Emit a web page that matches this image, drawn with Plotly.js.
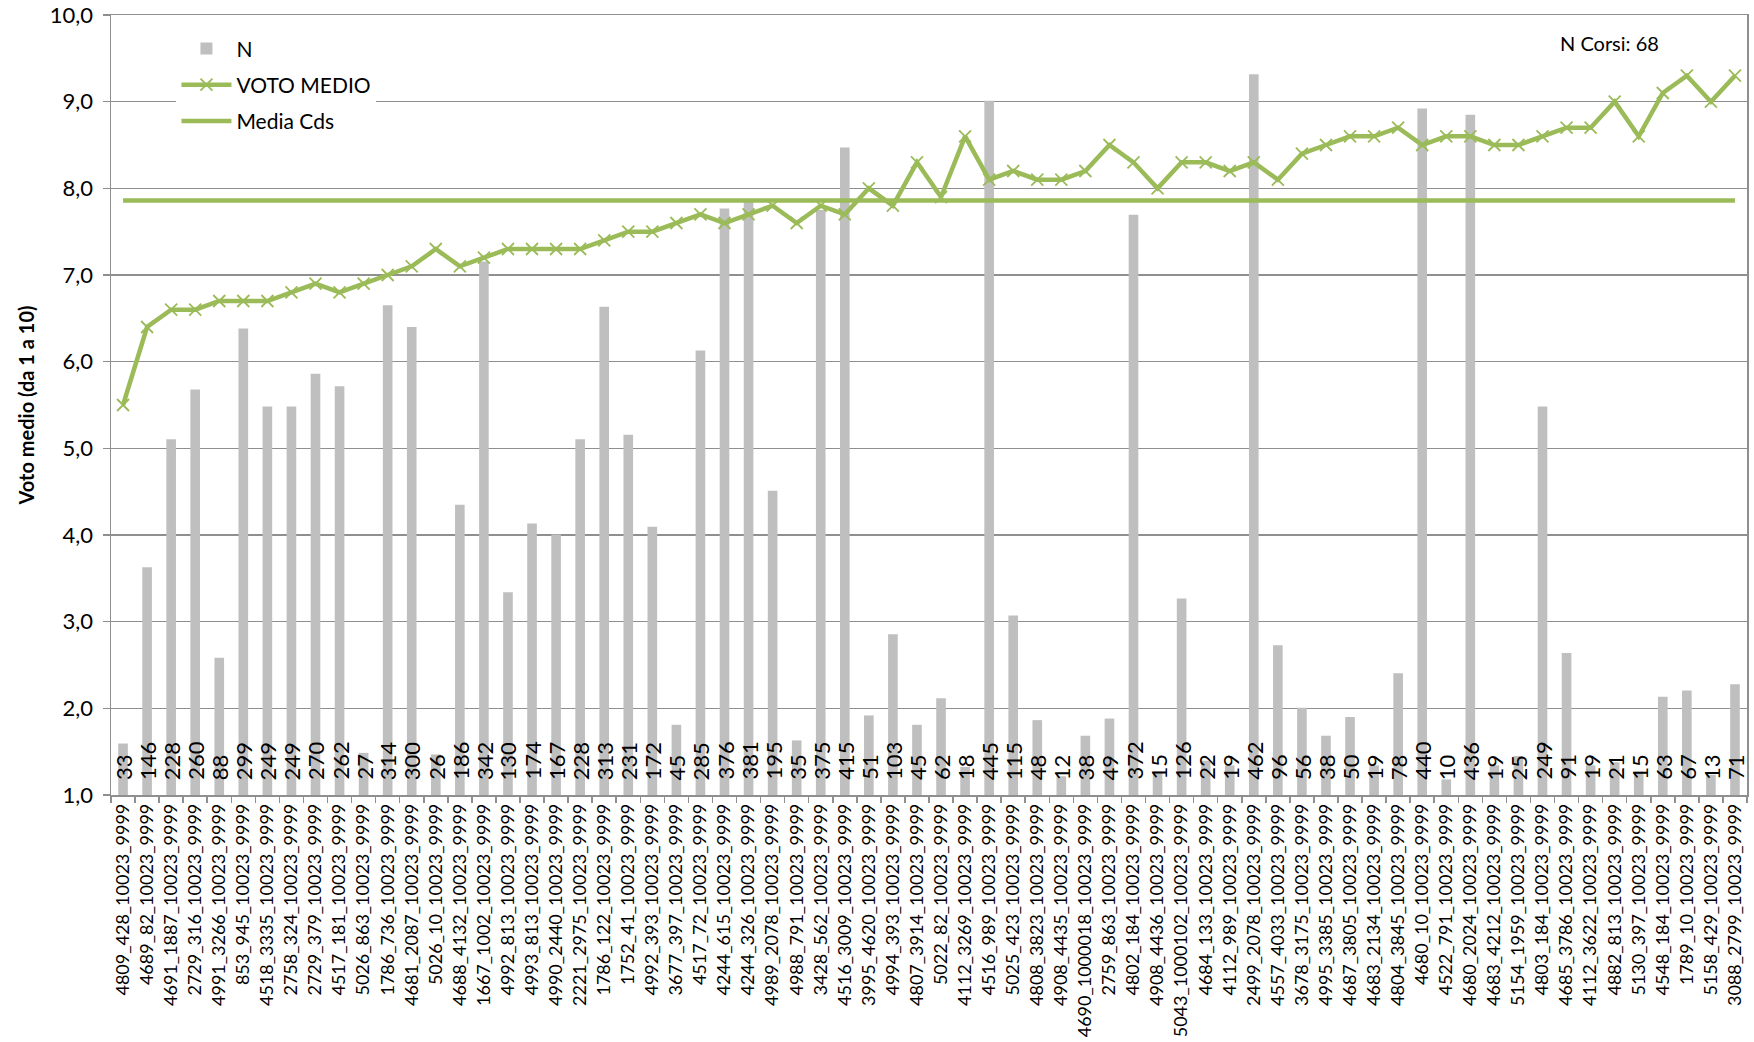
<!DOCTYPE html>
<html>
<head>
<meta charset="utf-8">
<script src="https://cdn.plot.ly/plotly-3.0.1.min.js"></script>
<style>html,body{margin:0;padding:0;background:#fff;}#chart{width:1754px;height:1042px;}</style>
</head>
<body>
<div id="chart"></div>
<script>
const categories = [
"4809_428_10023_9999","4689_82_10023_9999","4691_1887_10023_9999","2729_316_10023_9999","4991_3266_10023_9999",
"853_945_10023_9999","4518_3335_10023_9999","2758_324_10023_9999","2729_379_10023_9999","4517_181_10023_9999",
"5026_863_10023_9999","1786_736_10023_9999","4681_2087_10023_9999","5026_10_10023_9999","4688_4132_10023_9999",
"1667_1002_10023_9999","4992_813_10023_9999","4993_813_10023_9999","4990_2440_10023_9999","2221_2975_10023_9999",
"1786_122_10023_9999","1752_41_10023_9999","4992_393_10023_9999","3677_397_10023_9999","4517_72_10023_9999",
"4244_615_10023_9999","4244_326_10023_9999","4989_2078_10023_9999","4988_791_10023_9999","3428_562_10023_9999",
"4516_3009_10023_9999","3995_4620_10023_9999","4994_393_10023_9999","4807_3914_10023_9999","5022_82_10023_9999",
"4112_3269_10023_9999","4516_989_10023_9999","5025_423_10023_9999","4808_3823_10023_9999","4908_4435_10023_9999",
"4690_1000018_10023_9999","2759_863_10023_9999","4802_184_10023_9999","4908_4436_10023_9999","5043_1000102_10023_9999",
"4684_133_10023_9999","4112_989_10023_9999","2499_2078_10023_9999","4557_4033_10023_9999","3678_3175_10023_9999",
"4995_3385_10023_9999","4687_3805_10023_9999","4683_2134_10023_9999","4804_3845_10023_9999","4680_10_10023_9999",
"4522_791_10023_9999","4680_2024_10023_9999","4683_4212_10023_9999","5154_1959_10023_9999","4803_184_10023_9999",
"4685_3786_10023_9999","4112_3622_10023_9999","4882_813_10023_9999","5130_397_10023_9999","4548_184_10023_9999",
"1789_10_10023_9999","5158_429_10023_9999","3088_2799_10023_9999"
];
const nValues = [
33,146,228,260,88,299,249,249,270,262,
27,314,300,26,186,342,130,174,167,228,
313,231,172,45,285,376,381,195,35,375,
415,51,103,45,62,18,445,115,48,12,
38,49,372,15,126,22,19,462,96,56,
38,50,19,78,440,10,436,19,25,249,
91,19,21,15,63,67,13,71
];
const votoMedio = [
5.5,6.4,6.6,6.6,6.7,6.7,6.7,6.8,6.9,6.8,
6.9,7.0,7.1,7.3,7.1,7.2,7.3,7.3,7.3,7.3,
7.4,7.5,7.5,7.6,7.7,7.6,7.7,7.8,7.6,7.8,
7.7,8.0,7.8,8.3,7.9,8.6,8.1,8.2,8.1,8.1,
8.2,8.5,8.3,8.0,8.3,8.3,8.2,8.3,8.1,8.4,
8.5,8.6,8.6,8.7,8.5,8.6,8.6,8.5,8.5,8.6,
8.7,8.7,9.0,8.6,9.1,9.3,9.0,9.3
];
const mediaCds = 7.86;
const yTicks = [1,2,3,4,5,6,7,8,9,10];

const GREEN = '#9BBB59';
const GRID = '#8f8f8f';
const FONT = 'Lato, "Open Sans", sans-serif';

const traces = [
  {
    type: 'bar', name: 'N', x: categories, y: nValues, yaxis: 'y',
    marker: {color: '#BFBFBF'}, width: 0.4, legendgroup: 'g1', hoverinfo: 'x+y'
  },
  {
    type: 'scatter', mode: 'lines+markers', name: 'VOTO MEDIO', x: categories, y: votoMedio, yaxis: 'y2',
    line: {color: GREEN, width: 4.5},
    marker: {symbol: 'x-thin', size: 12, color: GREEN, line: {color: GREEN, width: 1.8}},
    legendgroup: 'g2'
  },
  {
    type: 'scatter', mode: 'lines', name: 'Media Cds', x: categories, y: categories.map(() => mediaCds), yaxis: 'y2',
    line: {color: GREEN, width: 4.5}, legendgroup: 'g3'
  }
];

const annotations = categories.map((c, i) => ({
  x: c, xref: 'x', y: 0, yref: 'paper', yanchor: 'bottom', xanchor: 'center',
  yshift: 13, text: String(nValues[i]), textangle: -90, showarrow: false,
  font: {family: FONT, size: 22, color: '#000'}
}));
annotations.push({
  x: 0.916, xref: 'paper', y: 0.964, yref: 'paper', xanchor: 'center', yanchor: 'middle',
  text: 'N Corsi: ' + categories.length, showarrow: false,
  font: {family: FONT, size: 20, color: '#000'}
});

const layout = {
  width: 1754, height: 1042,
  margin: {l: 111, r: 7, t: 15, b: 247, pad: 0},
  paper_bgcolor: '#fff', plot_bgcolor: '#fff',
  font: {family: FONT, color: '#000'},
  separators: ',.',
  showlegend: true,
  bargap: 0.6,
  legend: {
    x: 0.04, y: 0.983, xanchor: 'left', yanchor: 'top',
    bgcolor: '#fff', borderwidth: 0,
    font: {family: FONT, size: 21, color: '#000'},
    traceorder: 'grouped', tracegroupgap: 6, itemwidth: 50
  },
  xaxis: {
    type: 'category', tickangle: -90, automargin: false,
    ticks: 'outside', tickson: 'boundaries', ticklen: 6, tickcolor: GRID, tickwidth: 1.5,
    showline: true, linecolor: GRID, linewidth: 1.5, mirror: true,
    showgrid: false, tickfont: {family: FONT, size: 18, color: '#000'},
    range: [-0.5, categories.length - 0.5]
  },
  yaxis: {
    range: [0, 500], visible: false, showgrid: false, fixedrange: true
  },
  yaxis2: {
    overlaying: 'y', side: 'left', range: [1, 10], tickvals: yTicks, tickformat: '.1f',
    showgrid: true, gridcolor: GRID, gridwidth: 1.5,
    showline: true, linecolor: GRID, linewidth: 1.5, mirror: true,
    ticks: 'outside', ticklen: 7, tickcolor: GRID, tickwidth: 1.5, ticklabelstandoff: 5,
    tickfont: {family: FONT, size: 22, color: '#000'},
    zeroline: false, automargin: false,
    title: {text: 'Voto medio (da 1 a 10)', font: {family: FONT, size: 20, color: '#000', weight: 'bold'}, standoff: 10}
  },
  annotations: annotations
};

Plotly.newPlot('chart', traces, layout, {displayModeBar: false, staticPlot: true});
</script>
</body>
</html>
